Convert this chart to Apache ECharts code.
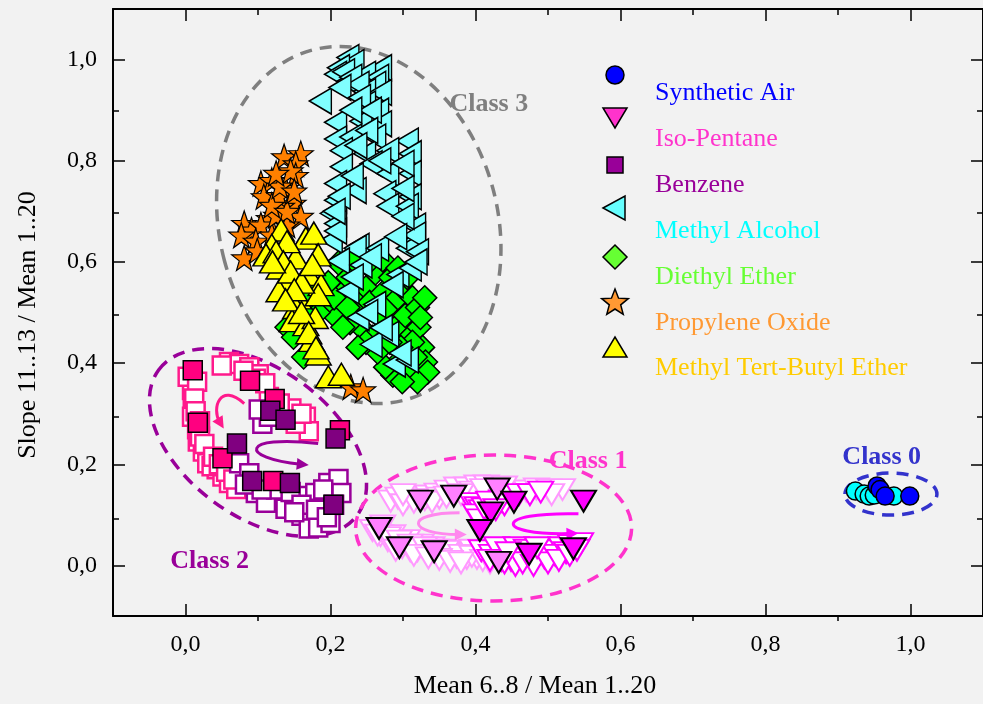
<!DOCTYPE html>
<html><head><meta charset="utf-8">
<script src="https://cdn.jsdelivr.net/npm/echarts@6/dist/echarts.min.js"></script>
<style>html,body{margin:0;padding:0;background:#f2f2f2}#c{width:983px;height:704px}</style>
</head><body><div id="c"></div>
<script>
// ---------- tick values ----------
const xMajorTicks = [0, 0.2, 0.4, 0.6, 0.8, 1.0];
const xMinorTicks = [0.1, 0.3, 0.5, 0.7, 0.9];
const yMajorTicks = [0, 0.2, 0.4, 0.6, 0.8, 1.0];
const yMinorTicks = [0.1, 0.3, 0.5, 0.7, 0.9];

// ---------- data (x = Mean 6..8 / Mean 1..20, y = Slope 11..13 / Mean 1..20) ----------
const syntheticAir = [[0.954,0.157],[0.958,0.150],[0.965,0.137],[0.999,0.137]];
const airCyan = [[0.924,0.147],[0.936,0.141],[0.943,0.137],[0.950,0.139],[0.977,0.137]];

const isoPentaneLight = [[0.324,0.127],[0.370,0.137],[0.430,0.151],[0.267,0.073],[0.295,0.035],[0.343,0.027],[0.432,0.006]];
const isoPentaneDark = [[0.453,0.125],[0.421,0.104],[0.406,0.069],[0.549,0.127],[0.474,0.022],[0.535,0.033]];
const isoPentaneHollowLight = [
 [0.283,0.127],[0.293,0.133],[0.306,0.133],[0.320,0.137],[0.334,0.137],[0.347,0.141],[0.361,0.147],[0.374,0.153],
 [0.388,0.153],[0.402,0.157],[0.415,0.157],[0.429,0.153],[0.456,0.147],[0.470,0.147],[0.484,0.151],[0.501,0.149],
 [0.300,0.120],[0.315,0.125],[0.330,0.130],[0.350,0.133],[0.395,0.145],
 [0.300,0.140],[0.340,0.125],[0.360,0.135],[0.380,0.140],[0.410,0.150],[0.440,0.155],[0.520,0.150],[0.505,0.140],
 [0.258,0.069],[0.269,0.059],[0.279,0.049],[0.290,0.043],[0.299,0.035],[0.310,0.029],[0.320,0.029],[0.334,0.025],
 [0.347,0.024],[0.361,0.020],[0.374,0.016],[0.388,0.014],[0.402,0.014],[0.272,0.078],[0.286,0.059],[0.306,0.049],
 [0.325,0.040],[0.340,0.035],[0.355,0.030],[0.370,0.025],[0.385,0.022],[0.395,0.030],
 [0.265,0.060],[0.280,0.055],[0.295,0.048],[0.310,0.040],[0.330,0.035],[0.345,0.030],[0.360,0.028],[0.380,0.020],
 [0.395,0.018],[0.410,0.010],[0.420,0.005],[0.290,0.030],[0.315,0.020],[0.335,0.015],[0.350,0.012],[0.365,0.008],[0.380,0.005]];
const isoPentaneHollowDark = [
 [0.395,0.122],[0.402,0.114],[0.408,0.108],[0.415,0.098],[0.422,0.118],[0.436,0.127],[0.449,0.137],[0.440,0.120],
 [0.460,0.140],[0.475,0.140],[0.490,0.145],[0.400,0.100],[0.405,0.090],[0.412,0.112],[0.418,0.125],[0.428,0.110],
 [0.408,0.029],[0.422,0.020],[0.436,0.010],[0.449,0.010],[0.463,0.020],[0.477,0.010],[0.490,0.024],[0.504,0.029],
 [0.518,0.035],[0.531,0.039],[0.545,0.043],[0.429,0.035],[0.456,0.035],[0.470,0.030],[0.495,0.015],[0.510,0.020],[0.525,0.025],
 [0.440,0.005],[0.455,0.000],[0.465,0.005],[0.480,0.000],[0.500,0.005],[0.515,0.010],[0.530,0.020],[0.540,0.030],
 [0.485,0.035],[0.420,0.010],[0.445,0.025]];

const benzenePurple = [[0.117,0.306],[0.138,0.288],[0.071,0.241],[0.092,0.167],[0.144,0.163],[0.207,0.251],[0.204,0.120]];
const benzenePink = [[0.010,0.386],[0.089,0.365],[0.123,0.329],[0.017,0.282],[0.051,0.212],[0.121,0.167],[0.213,0.267]];
const benzeneHollowPink = [
 [0.060,0.402],[0.074,0.398],[0.088,0.392],[0.101,0.378],[0.097,0.369],[0.009,0.347],[0.010,0.320],[0.009,0.294],
 [0.016,0.269],[0.017,0.245],[0.024,0.225],[0.030,0.202],[0.043,0.190],[0.051,0.176],[0.060,0.163],[0.070,0.151],
 [0.003,0.373],[0.016,0.363],[0.146,0.310],[0.166,0.294],[0.170,0.265],[0.152,0.280],[0.115,0.333],[0.050,0.395],
 [0.110,0.360],[0.012,0.330],[0.020,0.255],[0.036,0.196],[0.160,0.300],[0.130,0.320],
 [0.014,0.305],[0.020,0.285],[0.026,0.240],[0.038,0.215],[0.046,0.200],[0.056,0.185],[0.066,0.170],[0.080,0.385]];
const benzeneHollowPurple = [
 [0.106,0.280],[0.115,0.294],[0.101,0.308],[0.074,0.202],[0.088,0.182],[0.097,0.143],[0.115,0.137],[0.133,0.124],
 [0.152,0.131],[0.166,0.137],[0.179,0.143],[0.197,0.163],[0.211,0.171],[0.215,0.143],[0.187,0.112],[0.174,0.092],
 [0.160,0.098],[0.170,0.073],[0.183,0.075],[0.200,0.084],[0.138,0.112],[0.111,0.124],[0.125,0.150],[0.145,0.145],
 [0.190,0.150],[0.205,0.120],[0.160,0.120],[0.180,0.110],[0.082,0.160],[0.105,0.150],[0.195,0.095],[0.150,0.105]];

const methylAlcohol = [
 [0.224,1.004],[0.231,0.994],[0.211,0.984],[0.269,0.984],[0.207,0.971],[0.247,0.971],[0.265,0.965],[0.224,0.957],
 [0.261,0.951],[0.247,0.937],[0.269,0.935],[0.186,0.918],[0.247,0.912],[0.265,0.898],[0.207,0.876],[0.242,0.878],
 [0.269,0.873],[0.207,0.843],[0.228,0.847],[0.261,0.847],[0.306,0.839],[0.215,0.820],[0.279,0.820],[0.247,0.814],
 [0.310,0.814],[0.215,0.788],[0.256,0.794],[0.279,0.775],[0.310,0.775],[0.207,0.755],[0.234,0.741],[0.275,0.735],
 [0.310,0.729],[0.207,0.722],[0.279,0.710],[0.306,0.710],[0.201,0.696],[0.207,0.676],[0.316,0.671],[0.201,0.643],
 [0.238,0.631],[0.310,0.637],[0.207,0.661],[0.234,0.627],[0.265,0.627],[0.211,0.602],[0.242,0.594],[0.293,0.575],
 [0.310,0.588],[0.306,0.627],[0.224,0.543],[0.261,0.516],[0.238,0.490],[0.279,0.457],[0.256,0.437],[0.288,0.398],
 [0.306,0.406],[0.316,0.653],
 [0.218,0.976],[0.228,0.965],[0.238,0.951],[0.213,0.945],[0.240,0.925],[0.255,0.900],[0.228,0.900],[0.250,0.860],
 [0.235,0.830],[0.268,0.800],[0.300,0.795],[0.300,0.745],[0.230,0.770],[0.212,0.730],[0.205,0.700],[0.300,0.690],
 [0.290,0.650],[0.255,0.610],[0.320,0.620],[0.318,0.600],[0.250,0.500],[0.270,0.470],[0.296,0.420],[0.230,0.570],[0.285,0.555]];

const diethylEther = [
 [0.140,0.471],[0.149,0.451],[0.156,0.494],[0.163,0.412],[0.172,0.529],[0.186,0.549],[0.197,0.510],[0.208,0.490],
 [0.217,0.539],[0.224,0.569],[0.231,0.529],[0.238,0.500],[0.242,0.471],[0.249,0.549],[0.254,0.520],[0.262,0.578],
 [0.268,0.490],[0.272,0.539],[0.279,0.510],[0.283,0.569],[0.290,0.471],[0.293,0.529],[0.299,0.549],[0.303,0.494],
 [0.309,0.451],[0.313,0.529],[0.320,0.510],[0.322,0.471],[0.327,0.431],[0.331,0.402],[0.334,0.382],[0.317,0.412],
 [0.306,0.382],[0.293,0.402],[0.286,0.376],[0.276,0.392],[0.265,0.422],[0.258,0.451],[0.249,0.441],[0.238,0.431],
 [0.227,0.480],[0.217,0.471],[0.205,0.529],[0.197,0.559],[0.211,0.598],[0.231,0.604],[0.252,0.598],[0.272,0.604],
 [0.293,0.588],[0.306,0.569],[0.324,0.490],[0.330,0.529],[0.313,0.441],[0.297,0.431],[0.282,0.441],[0.224,0.510],
 [0.183,0.500],[0.170,0.490],[0.320,0.363],[0.299,0.363]];

const propyleneOxide = [
 [0.136,0.808],[0.159,0.814],[0.152,0.794],[0.104,0.755],[0.119,0.761],[0.108,0.729],[0.152,0.771],[0.138,0.745],
 [0.149,0.716],[0.133,0.710],[0.115,0.686],[0.159,0.690],[0.081,0.676],[0.091,0.663],[0.104,0.673],[0.077,0.653],
 [0.097,0.641],[0.081,0.608],[0.099,0.622],[0.119,0.653],[0.140,0.673],[0.125,0.692],[0.129,0.731],[0.119,0.712],
 [0.145,0.780],[0.130,0.750],[0.140,0.700],[0.150,0.740],[0.125,0.775],[0.228,0.353],[0.245,0.347]];

const mtbe = [
 [0.132,0.663],[0.166,0.647],[0.177,0.657],[0.183,0.614],[0.119,0.633],[0.111,0.614],[0.129,0.588],[0.152,0.608],
 [0.170,0.575],[0.187,0.555],[0.142,0.563],[0.129,0.543],[0.156,0.529],[0.183,0.535],[0.152,0.510],[0.147,0.484],
 [0.166,0.476],[0.179,0.490],[0.174,0.445],[0.183,0.418],[0.197,0.373],[0.215,0.378],
 [0.140,0.640],[0.125,0.620],[0.135,0.600],[0.145,0.580],[0.160,0.560],[0.150,0.545],[0.138,0.525],[0.160,0.500],
 [0.170,0.460],[0.180,0.430],[0.120,0.600],[0.175,0.595]];

const legendNames = ['Synthetic Air','Iso-Pentane','Benzene','Methyl Alcohol','Diethyl Ether','Propylene Oxide','Methyl Tert-Butyl Ether'];
const classLabels = ['Class 0','Class 1','Class 2','Class 3'];

// ---------- annotation layout (not data) ----------
const ellipses = [
 {c:[0.239,0.673], rx:139, ry:181, rot:0.26, color:'#7f7f7f'},
 {c:[0.100,0.243], rx:123, ry:74, rot:-0.63, color:'#990099'},
 {c:[0.425,0.074], rx:138, ry:73, rot:0, color:'#ff33cc'},
 {c:[0.973,0.141], rx:46, ry:21, rot:0, color:'#3333cc'}
];
const labelPos = [
 {at:[0.906,0.214], color:'#3333cc'},
 {at:[0.501,0.206], color:'#ff33cc'},
 {at:[-0.021,0.008], color:'#990099'},
 {at:[0.364,0.912], color:'#7f7f7f'}
];
const arrows = [
 {pts:[[0.081,0.320],[0.047,0.363],[0.036,0.310],[0.047,0.284]], color:'#ff1a8c'},
 {pts:[[0.183,0.241],[0.074,0.259],[0.074,0.212],[0.159,0.200]], color:'#990099'},
 {pts:[[0.378,0.104],[0.299,0.104],[0.306,0.061],[0.377,0.061]], color:'#ff88ee'},
 {pts:[[0.542,0.102],[0.422,0.106],[0.426,0.059],[0.531,0.063]], color:'#ff00ff'}
];

const FONT = '"Liberation Serif","Times New Roman",serif';
const STAR = 'path://M50,0L61.8,33.8L97.6,34.5L69,56.2L79.4,90.5L50,70L20.6,90.5L31,56.2L2.4,34.5L38.2,33.8Z';
const fmt = v => v.toFixed(1).replace('.', ',');

function sc(name, data, symbol, size, fill, stroke, lw, rotate, z) {
  return {type:'scatter', name, data, symbol, symbolSize:size, symbolRotate:rotate||0,
    xAxisIndex:0, yAxisIndex:0, z:z, silent:true,
    itemStyle:{color:fill, borderColor:stroke, borderWidth:lw, opacity:1}};
}

function axisX(grid, pos, ticks, len, withLabel, withLine, extra) {
  return Object.assign({type:'value', gridIndex:grid, position:pos, min:-0.1, max:1.1,
    axisLine:{show:withLine, onZero:false, lineStyle:{color:'#000', width:2}},
    axisTick:{show:true, inside:true, length:len, customValues:ticks, lineStyle:{color:'#000', width:1.5}},
    axisLabel:withLabel ? {show:true, customValues:ticks, formatter:fmt, margin:17, fontSize:24, color:'#000', fontFamily:FONT} : {show:false},
    splitLine:{show:false}}, extra||{});
}
function axisY(grid, pos, ticks, len, withLabel, withLine, extra) {
  return Object.assign({type:'value', gridIndex:grid, position:pos, min:-0.1, max:1.1,
    axisLine:{show:withLine, onZero:false, lineStyle:{color:'#000', width:2}},
    axisTick:{show:true, inside:true, length:len, customValues:ticks, lineStyle:{color:'#000', width:1.5}},
    axisLabel:withLabel ? {show:true, customValues:ticks, formatter:fmt, margin:16, fontSize:24, color:'#000', fontFamily:FONT} : {show:false},
    splitLine:{show:false}}, extra||{});
}

const gridBox = {left:113, top:9, width:879, height:612, containLabel:false};
const chart = echarts.init(document.getElementById('c'), null, {renderer:'canvas'});
chart.setOption({
  animation:false,
  backgroundColor:'#f2f2f2',
  grid:[Object.assign({}, gridBox), Object.assign({}, gridBox)],
  xAxis:[
    axisX(0,'bottom',xMajorTicks,12,true,true,{name:'Mean 6..8 / Mean 1..20', nameLocation:'middle', nameGap:57,
      nameTextStyle:{fontSize:26, color:'#000', fontFamily:FONT, padding:[0,26,0,0]}}),
    axisX(0,'top',xMajorTicks,12,false,true),
    axisX(1,'bottom',xMinorTicks,6,false,false),
    axisX(1,'top',xMinorTicks,6,false,false)
  ],
  yAxis:[
    axisY(0,'left',yMajorTicks,12,true,true,{name:'Slope 11..13 / Mean 1..20', nameLocation:'middle', nameGap:72,
      nameTextStyle:{fontSize:26, color:'#000', fontFamily:FONT, padding:[0,25,0,0]}}),
    axisY(0,'right',yMajorTicks,12,false,true),
    axisY(1,'left',yMinorTicks,6,false,false),
    axisY(1,'right',yMinorTicks,6,false,false)
  ],
  series:[
    sc('Synthetic Air (cyan)', airCyan, 'circle', 18, '#00ffff', '#000', 1.5, 0, 5),
    sc(legendNames[0], syntheticAir, 'circle', 18, '#0000ff', '#000', 1.5, 0, 6),
    sc('Iso-Pentane hollow light', isoPentaneHollowLight, 'triangle', [25,21], '#ffffff', '#ff99ff', 2, 180, 3),
    sc('Iso-Pentane hollow dark', isoPentaneHollowDark, 'triangle', [25,21], '#ffffff', '#ff00ff', 2, 180, 3),
    sc('Iso-Pentane light', isoPentaneLight, 'triangle', [25,21], '#ff80ff', '#000', 2, 180, 5),
    sc(legendNames[1], isoPentaneDark, 'triangle', [25,21], '#ff00ff', '#000', 2, 180, 5),
    sc('Benzene hollow pink', benzeneHollowPink, 'rect', 18, '#ffffff', '#ff1a8c', 2.5, 0, 3),
    sc('Benzene hollow purple', benzeneHollowPurple, 'rect', 18, '#ffffff', '#990099', 2.5, 0, 3),
    sc('Benzene pink', benzenePink, 'rect', 19, '#ff0080', '#000', 1.5, 0, 5),
    sc(legendNames[2], benzenePurple, 'rect', 19, '#800080', '#000', 1.5, 0, 5),
    sc(legendNames[4], diethylEther, 'diamond', 24, '#00ff00', '#000', 1.5, 0, 4),
    sc(legendNames[3], methylAlcohol, 'triangle', [26,22], '#80ffff', '#000', 1.5, 90, 5),
    sc(legendNames[5], propyleneOxide, STAR, 25, '#ff8000', '#000', 1.2, 0, 5),
    sc(legendNames[6], mtbe, 'triangle', [26,22], '#ffff00', '#000', 1.5, 0, 6)
  ]
});

function starPts(cx, cy, R, r) {
  const p = [];
  for (let i = 0; i < 10; i++) {
    const a = -Math.PI/2 + i*Math.PI/5, rr = i%2 ? r : R;
    p.push([cx + rr*Math.cos(a), cy + rr*Math.sin(a)]);
  }
  return p;
}

function buildGraphics() {
  const g = [];
  const toPx = v => chart.convertToPixel({gridIndex:0}, v);
  ellipses.forEach(e => {
    const p = toPx(e.c);
    g.push({type:'ellipse', x:p[0], y:p[1], rotation:e.rot, z:1, silent:true,
      shape:{cx:0, cy:0, rx:e.rx, ry:e.ry},
      style:{fill:'none', stroke:e.color, lineWidth:3.5, lineDash:[12,8]}});
  });
  labelPos.forEach((l, i) => {
    const p = toPx(l.at);
    g.push({type:'text', x:p[0], y:p[1], z:7, silent:true,
      style:{text:classLabels[i], fill:l.color, font:'bold 26px ' + FONT, textAlign:'left', textVerticalAlign:'middle'}});
  });
  arrows.forEach(a => {
    const P = a.pts.map(toPx);
    g.push({type:'bezierCurve', z:4, silent:true,
      shape:{x1:P[0][0], y1:P[0][1], cpx1:P[1][0], cpy1:P[1][1], cpx2:P[2][0], cpy2:P[2][1], x2:P[3][0], y2:P[3][1]},
      style:{fill:'none', stroke:a.color, lineWidth:3}});
    const dx = P[3][0]-P[2][0], dy = P[3][1]-P[2][1], L = Math.hypot(dx, dy);
    const ux = dx/L, uy = dy/L, nx = -uy, ny = ux;
    const tip = [P[3][0]+ux*8, P[3][1]+uy*8], b = [P[3][0]-ux*4, P[3][1]-uy*4];
    g.push({type:'polygon', z:4, silent:true,
      shape:{points:[tip, [b[0]+nx*6, b[1]+ny*6], [b[0]-nx*6, b[1]-ny*6]]},
      style:{fill:a.color}});
  });
  // legend
  const sx = 615, tx = 655;
  const symY = [75,118,165,208,257,302,347];
  const txtY = [93,139,185,231,277,323,368];
  const txtCol = ['#0000ff','#ff33cc','#990099','#00ffff','#66ff33','#ff9933','#ffcc00'];
  const st = {stroke:'#000', lineWidth:1.5};
  g.push({type:'circle', z:8, shape:{cx:sx, cy:symY[0], r:9}, style:Object.assign({fill:'#0000ff'}, st)});
  g.push({type:'polygon', z:8, shape:{points:[[sx-12,symY[1]-10],[sx+12,symY[1]-10],[sx,symY[1]+10]]}, style:Object.assign({fill:'#ff33cc'}, st)});
  g.push({type:'rect', z:8, shape:{x:sx-8, y:symY[2]-8, width:16, height:16}, style:Object.assign({fill:'#990099'}, st)});
  g.push({type:'polygon', z:8, shape:{points:[[sx-12,symY[3]],[sx+10,symY[3]-12],[sx+10,symY[3]+12]]}, style:Object.assign({fill:'#66ffff'}, st)});
  g.push({type:'polygon', z:8, shape:{points:[[sx,symY[4]-12],[sx+12,symY[4]],[sx,symY[4]+12],[sx-12,symY[4]]]}, style:Object.assign({fill:'#66ff33'}, st)});
  g.push({type:'polygon', z:8, shape:{points:starPts(sx, symY[5]+1, 14, 6)}, style:Object.assign({fill:'#ff9933'}, st)});
  g.push({type:'polygon', z:8, shape:{points:[[sx-12,symY[6]+10],[sx+12,symY[6]+10],[sx,symY[6]-10]]}, style:Object.assign({fill:'#ffff00'}, st)});
  legendNames.forEach((n, i) => {
    g.push({type:'text', z:8, x:tx, y:txtY[i], silent:true,
      style:{text:n, fill:txtCol[i], font:'26px ' + FONT, textAlign:'left', textVerticalAlign:'middle'}});
  });
  chart.setOption({graphic:g});
}
buildGraphics();
</script></body></html>
